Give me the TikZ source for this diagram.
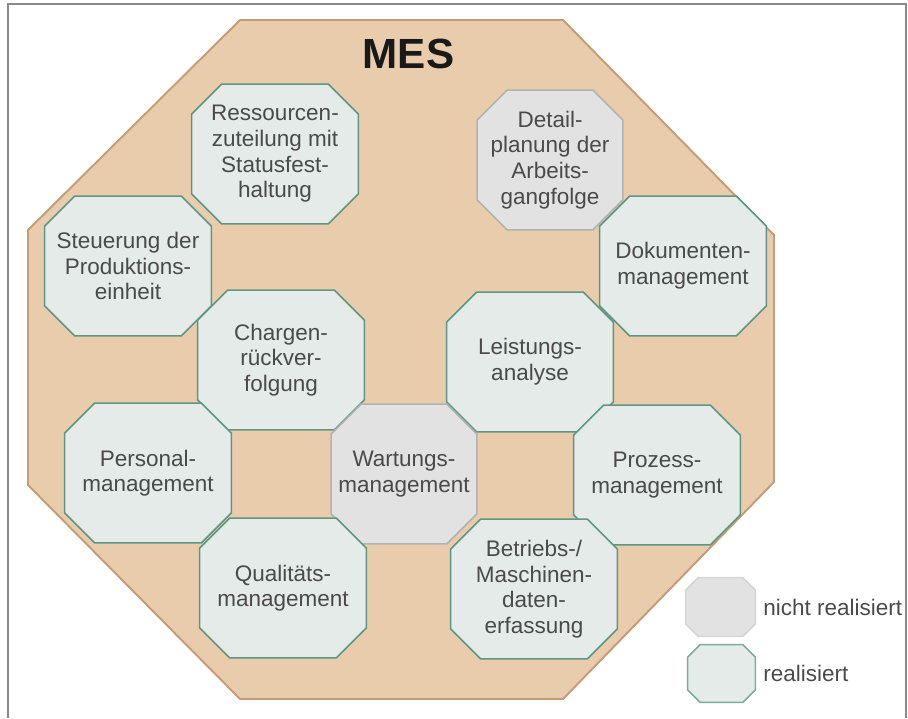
\documentclass[tikz,border=0pt]{standalone}
\usepackage{fontspec}
\setmainfont{Liberation Sans}
\usetikzlibrary{backgrounds,calc}
\definecolor{mesfill}{HTML}{E9CCAB}
\definecolor{mesline}{HTML}{C49C78}
\definecolor{realfill}{HTML}{E4EBE8}
\definecolor{realline}{HTML}{5F9683}
\definecolor{notfill}{HTML}{E2E2E2}
\definecolor{notline}{HTML}{B2B2B2}
\definecolor{textgray}{HTML}{4A4A4A}
\definecolor{framegray}{HTML}{8A8A8A}

\begin{document}
\begin{tikzpicture}[scale=0.2]
\tikzstyle{every node}+=[inner sep=0pt, text=textgray, align=center, font=\fontsize{12.8}{14.6}\selectfont]
\tikzstyle{module}=[minimum width=3.32cm, minimum height=2.78cm]
\tikzstyle{real}=[draw=realline, fill=realfill, line width=0.9pt]
\tikzstyle{notreal}=[draw=notline, fill=notfill, line width=0.9pt]
\tikzstyle{keyreal}=[real, draw=realline!80]
\tikzstyle{keynotreal}=[notreal, draw=notline!55]
\useasboundingbox (0,0) rectangle (90.8,-71.8);
\draw [framegray, line width=0.6pt] (0.8,-71.8) -- (0.8,-0.4) -- (90.6,-0.4) -- (90.6,-71.8);
\node (mes) at (40.85,-5.4) [text=black!90, font=\bfseries\fontsize{24}{28}\selectfont] {MES};
\node [module] (ressourcen) at (27.5,-15.4) {Ressourcen-\\zuteilung mit\\Statusfest-\\haltung};
\node [module, minimum width=2.9cm] (detail) at (55,-16) {Detail-\\planung der\\Arbeits-\\gangfolge};
\node [module] (steuerung) at (12.8,-26.6) {Steuerung der\\Produktions-\\einheit};
\node [module] (dokumente) at (68.3,-26.6) {Dokumenten-\\management};
\node [module] (chargen) at (28.1,-36) {Chargen-\\rückver-\\folgung};
\node [module] (leistung) at (53,-36.2) {Leistungs-\\analyse};
\node [module] (personal) at (14.8,-47.3) {Personal-\\management};
\node [module, minimum width=2.9cm] (wartung) at (40.4,-47.4) {Wartungs-\\management};
\node [module] (prozess) at (65.7,-47.5) {Prozess-\\management};
\node [module] (qualitaet) at (28.3,-58.8) {Qualitäts-\\management};
\node [module] (betrieb) at (53.4,-58.9) {Betriebs-/\\Maschinen-\\daten-\\erfassung};
\node [minimum width=1.38cm, minimum height=1.16cm] (legnot) at (72.05,-60.7) {};
\node [minimum width=1.34cm, minimum height=1.14cm] (legreal) at (72.15,-67.35) {};
\node [anchor=west] (legnottext) at (76.3,-60.7) {nicht realisiert};
\node [anchor=west] (legrealtext) at (76.3,-67.3) {realisiert};
\begin{scope}[on background layer]
\draw [mesline, fill=mesfill, line width=1.1pt] (24,-2) -- (56.3,-2) -- (77.4,-23.5) -- (77.4,-48.2) -- (56.3,-69.9) -- (24,-69.9) -- (2.8,-48.5) -- (2.8,-23) -- cycle;
\foreach \n/\s/\c in {ressourcen/real/3, detail/notreal/3, steuerung/real/3,
  dokumente/real/3, chargen/real/3, leistung/real/3, personal/real/3,
  wartung/notreal/3, prozess/real/3, qualitaet/real/3, betrieb/real/3,
  legnot/keynotreal/1.25, legreal/keyreal/1.25}
  \draw [\s] ($(\n.north west)+(\c,0)$) -- ($(\n.north east)+(-\c,0)$) -- ($(\n.north east)+(0,-\c)$)
    -- ($(\n.south east)+(0,\c)$) -- ($(\n.south east)+(-\c,0)$) -- ($(\n.south west)+(\c,0)$)
    -- ($(\n.south west)+(0,\c)$) -- ($(\n.north west)+(0,-\c)$) -- cycle;
\end{scope}
\end{tikzpicture}
\end{document}
